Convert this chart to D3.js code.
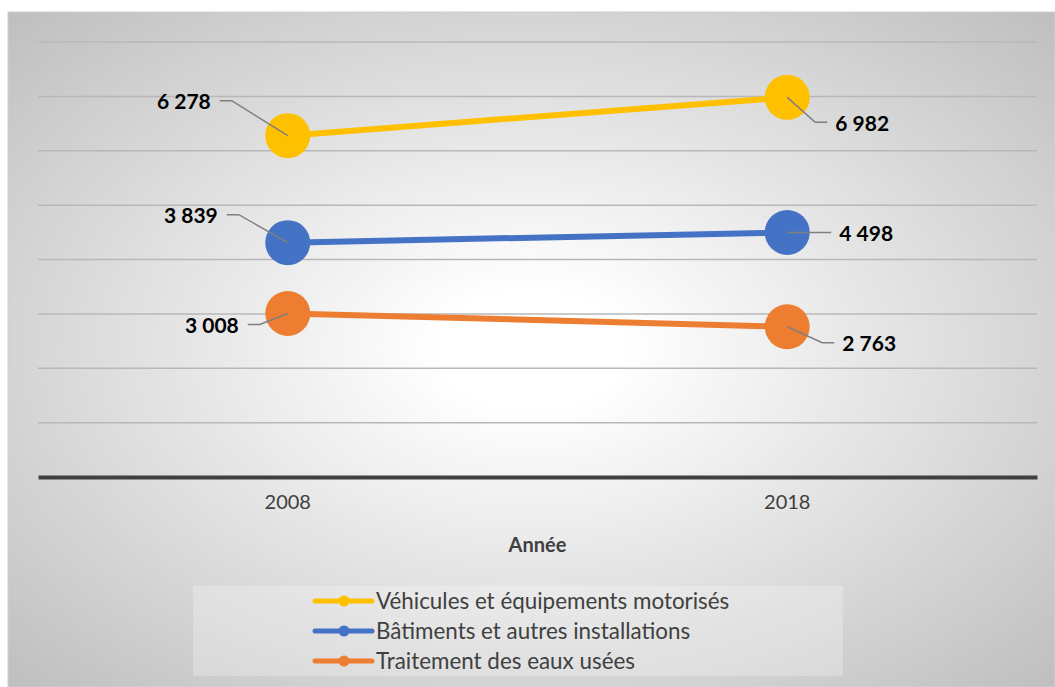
<!DOCTYPE html>
<html>
<head>
<meta charset="utf-8">
<script src="https://cdn.jsdelivr.net/npm/d3@7"></script>
<style>
  html, body { margin: 0; padding: 0; background: #fff; }
  svg { display: block; }
</style>
</head>
<body>
<svg id="chart"></svg>
<script>
const years = ["2008", "2018"];
const seriesNames = [
  "Véhicules et équipements motorisés",
  "Bâtiments et autres installations",
  "Traitement des eaux usées"
];
// plotted positions
const vehicules = [6278, 6982];
const batiments = [4310, 4498];
const eaux = [3008, 2763];
// data labels as printed on the source chart
const vehiculesLabels = ["6 278", "6 982"];
const batimentsLabels = ["3 839", "4 498"];
const eauxLabels = ["3 008", "2 763"];
const yTicks = [0, 1000, 2000, 3000, 4000, 5000, 6000, 7000, 8000];

const width = 1055;
const height = 687;
const colors = ["#FFC000", "#4472C4", "#ED7D31"];

const svg = d3.select("#chart")
  .attr("width", width)
  .attr("height", height);

// background with radial gradient
const defs = svg.append("defs");
const grad = defs.append("radialGradient")
  .attr("id", "bg")
  .attr("cx", "0.5").attr("cy", "0.5").attr("r", "0.72");
grad.append("stop").attr("offset", "0%").attr("stop-color", "#ffffff");
grad.append("stop").attr("offset", "12%").attr("stop-color", "#ffffff");
grad.append("stop").attr("offset", "100%").attr("stop-color", "#bdbdbd");

svg.append("rect")
  .attr("x", 8).attr("y", 12)
  .attr("width", width - 8).attr("height", height - 12)
  .attr("fill", "url(#bg)")
  .attr("stroke", "#d0d0d0")
  .attr("stroke-width", 1);

const x = d3.scaleBand()
  .domain(years)
  .range([38, 1037]);

const y = d3.scaleLinear()
  .domain([0, 8000])
  .range([477, 42]);

// gridlines
svg.append("g")
  .selectAll("line")
  .data(yTicks.filter(d => d > 0))
  .join("line")
  .attr("x1", 38).attr("x2", 1037)
  .attr("y1", d => y(d)).attr("y2", d => y(d))
  .attr("stroke", "#b8b8b8")
  .attr("stroke-width", 1.5);

// x axis
const xAxis = svg.append("g")
  .attr("transform", `translate(0, ${y(0)})`)
  .call(d3.axisBottom(x).tickSize(0).tickPadding(18));

xAxis.select(".domain")
  .attr("stroke", "#404040")
  .attr("stroke-width", 4);

xAxis.selectAll(".tick text")
  .style("font-family", "Lato, 'Open Sans', sans-serif")
  .style("font-size", "20px")
  .attr("fill", "#404040");

svg.append("text")
  .attr("x", 537.5)
  .attr("y", 552)
  .attr("text-anchor", "middle")
  .style("font-family", "Lato, 'Open Sans', sans-serif")
  .style("font-size", "20px")
  .style("font-weight", "bold")
  .attr("fill", "#404040")
  .text("Année");

const series = [
  { name: seriesNames[0], values: vehicules, labels: vehiculesLabels, color: colors[0] },
  { name: seriesNames[1], values: batiments, labels: batimentsLabels, color: colors[1] },
  { name: seriesNames[2], values: eaux, labels: eauxLabels, color: colors[2] }
];

const cx = i => x(years[i]) + x.bandwidth() / 2;

const line = d3.line()
  .x((d, i) => cx(i))
  .y(d => y(d));

series.forEach(s => {
  svg.append("path")
    .datum(s.values)
    .attr("d", line)
    .attr("fill", "none")
    .attr("stroke", s.color)
    .attr("stroke-width", 6);

  svg.append("g")
    .selectAll("circle")
    .data(s.values)
    .join("circle")
    .attr("cx", (d, i) => cx(i))
    .attr("cy", d => y(d))
    .attr("r", 22.5)
    .attr("fill", s.color);
});

// leader line elbow offsets from the point and which side the text sits on
const leaders = [
  [[-56, -35, "left"], [28, 25, "right"]],
  [[-49, -28, "left"], [44, 0, "right"]],
  [[-28, 11, "left"], [35, 16, "right"]]
];

series.forEach((s, si) => {
  s.values.forEach((v, i) => {
    const px = cx(i), py = y(v);
    const [dx, dy, side] = leaders[si][i];
    const ex = px + dx, ey = py + dy;
    const hx = side === "left" ? ex - 12 : ex + 12;
    const pts = dx === 0 || dy === 0 ? [[px, py], [ex, ey]] : [[px, py], [ex, ey], [hx, ey]];
    svg.append("path")
      .attr("d", d3.line()(pts))
      .attr("fill", "none")
      .attr("stroke", "#7f7f7f")
      .attr("stroke-width", 1.5);
    const tx = dy === 0 ? ex + 8 : (side === "left" ? hx - 9 : hx + 8);
    svg.append("text")
      .attr("x", tx)
      .attr("y", ey + 1)
      .attr("dy", "0.35em")
      .attr("text-anchor", side === "left" ? "end" : "start")
      .style("font-family", "Lato, 'Open Sans', sans-serif")
      .style("font-size", "21px")
      .style("font-weight", "bold")
      .attr("fill", "#000")
      .text(s.labels[i]);
  });
});

// legend
svg.append("rect")
  .attr("x", 193).attr("y", 586)
  .attr("width", 650).attr("height", 90)
  .attr("fill", "#ffffff")
  .attr("fill-opacity", 0.25);

const legend = svg.append("g")
  .selectAll("g")
  .data(series)
  .join("g")
  .attr("transform", (d, i) => `translate(0, ${601 + i * 30})`);

legend.append("line")
  .attr("x1", 315).attr("x2", 372)
  .attr("y1", 0).attr("y2", 0)
  .attr("stroke", d => d.color)
  .attr("stroke-width", 5)
  .attr("stroke-linecap", "round");

legend.append("circle")
  .attr("cx", 344).attr("cy", 0)
  .attr("r", 5.5)
  .attr("fill", d => d.color);

legend.append("text")
  .attr("x", 376)
  .attr("y", 0)
  .attr("dy", "0.35em")
  .style("font-family", "Lato, 'Open Sans', sans-serif")
  .style("font-size", "22.4px")
  .attr("fill", "#404040")
  .text(d => d.name);
</script>
</body>
</html>
